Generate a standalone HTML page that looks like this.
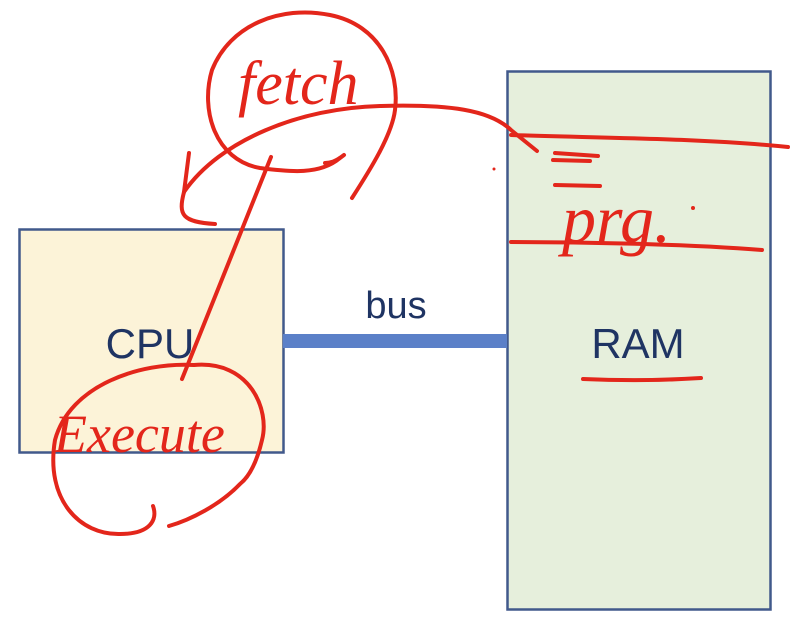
<!DOCTYPE html>
<html><head><style>html,body{margin:0;padding:0;background:#fff}svg{display:block}</style></head>
<body>
<svg width="798" height="628" viewBox="0 0 798 628" xmlns="http://www.w3.org/2000/svg">
<rect x="19.5" y="229.5" width="264" height="223" fill="#fcf3d8" stroke="#41598b" stroke-width="2.5"/>
<rect x="507.5" y="71.5" width="263" height="538" fill="#e6efdc" stroke="#41598b" stroke-width="2.5"/>
<rect x="283" y="334" width="224" height="14" fill="#5b80c8"/>
<text x="396" y="318" font-family="Liberation Sans, sans-serif" font-size="38" fill="#1f3463" text-anchor="middle">bus</text>
<text x="150" y="358" font-family="Liberation Sans, sans-serif" font-size="42" fill="#1f3463" text-anchor="middle">CPU</text>
<text x="638" y="358" font-family="Liberation Sans, sans-serif" font-size="42" fill="#1f3463" text-anchor="middle">RAM</text>
<g fill="none" stroke="#e3261b" stroke-width="4" stroke-linecap="round" stroke-linejoin="round">
<path d="M340 158 C320 175 290 172 260 168 C215 160 200 110 212 70 C230 25 280 5 330 15 C380 25 400 70 395 110 C392 135 370 170 352 198"/>
<path d="M344 155 C335 162 330 163 325 163"/>
<path d="M184 192 C220 140 300 108 380 106 C450 104 490 110 511 130 L537 151"/>
<path d="M189 153 L184 192"/>
<path d="M184 192 C178 215 182 222 215 224"/>
<path d="M271 157 L182 379"/>
<path d="M194 365 C140 362 70 385 55 440 C45 500 80 535 120 534 C150 534 158 520 153 506"/>
<path d="M194 365 C250 360 270 410 262 440 C255 470 245 480 240 484 C220 505 190 520 169 526"/>
<path d="M511 135 C600 138 700 138 788 147"/>
<path d="M511 242 C600 242 700 245 762 250"/>
<path d="M583 379 C630 381 670 380 701 378"/>
<path d="M555 153 L598 156 M553 160 L590 161 M555 185 L600 186"/>
</g>
<circle cx="494" cy="169" r="1.5" fill="#e3261b"/>
<circle cx="693" cy="208" r="2" fill="#e3261b"/>
<text x="238" y="104" font-family="Liberation Serif, serif" font-style="italic" font-size="62" fill="#e3261b">fetch</text>
<text x="54" y="452" font-family="Liberation Serif, serif" font-style="italic" font-size="54" fill="#e3261b">Execute</text>
<text x="562" y="242" font-family="Liberation Serif, serif" font-style="italic" font-size="68" fill="#e3261b">prg.</text>
</svg>
</body></html>
